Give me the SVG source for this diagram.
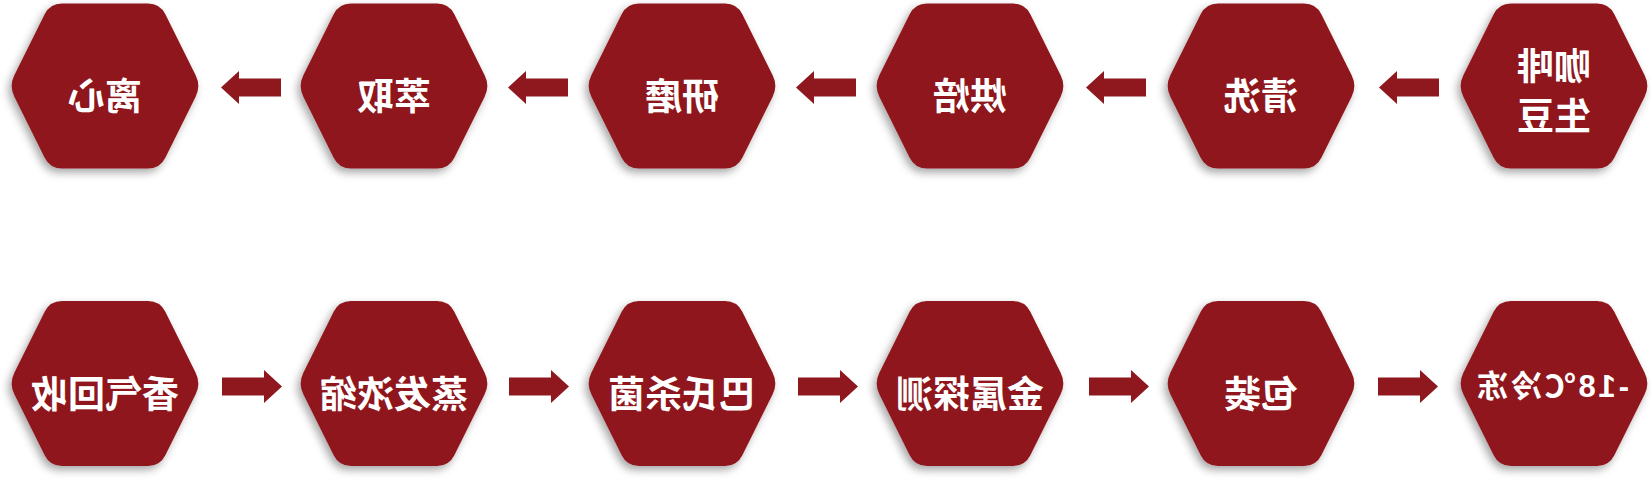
<svg xmlns="http://www.w3.org/2000/svg" xmlns:xlink="http://www.w3.org/1999/xlink" width="1651" height="492" viewBox="0 0 1651 492">
<style>
.t{font-family:"Noto Sans CJK SC","Noto Sans",sans-serif;font-weight:700;font-size:37px;fill:#ffffff;text-anchor:middle}
.s{font-size:31px}
.d{font-family:"Liberation Sans","Noto Sans CJK SC",sans-serif}
.hx{fill:#8E181E;filter:url(#sh)}
.ar{fill:#8E181E}
</style>
<defs>
<filter id="sh" x="-20%" y="-20%" width="140%" height="140%">
<feDropShadow dx="-3" dy="4" stdDeviation="4" flood-color="#000" flood-opacity="0.35"/>
</filter>
<path id="hex" d="M-90.66,-10.75 L-60.34,-71.75 Q-55,-82.5 -43,-82.5 L43,-82.5 Q55,-82.5 60.34,-71.75 L90.66,-10.75 Q96,0 90.66,10.75 L60.34,71.75 Q55,82.5 43,82.5 L-43,82.5 Q-55,82.5 -60.34,71.75 L-90.66,10.75 Q-96,0 -90.66,-10.75 Z"/>
<polygon id="arL" points="-30,0 -12,-16.5 -12,-9 30,-9 30,9 -12,9 -12,16.5"/>
<polygon id="arR" points="30,0 12,-16.5 12,-9 -30,-9 -30,9 12,9 12,16.5"/>
</defs>
<rect width="1651" height="492" fill="#ffffff"/>
<g id="connectors" class="ar">
<use xlink:href="#arL" href="#arL" transform="translate(251,87.5)"/>
<use xlink:href="#arL" href="#arL" transform="translate(538,87.5)"/>
<use xlink:href="#arL" href="#arL" transform="translate(826,87.5)"/>
<use xlink:href="#arL" href="#arL" transform="translate(1116,87.5)"/>
<use xlink:href="#arL" href="#arL" transform="translate(1409,87.5)"/>
<use xlink:href="#arR" href="#arR" transform="translate(252,386.5)"/>
<use xlink:href="#arR" href="#arR" transform="translate(539,386.5)"/>
<use xlink:href="#arR" href="#arR" transform="translate(828,386.5)"/>
<use xlink:href="#arR" href="#arR" transform="translate(1119,386.5)"/>
<use xlink:href="#arR" href="#arR" transform="translate(1408,386.5)"/>
</g>
<g id="node-lixin" transform="translate(105,86)">
<use class="hx" xlink:href="#hex" href="#hex"/>
<text class="t" transform="scale(-1,1)" x="0" y="23.5">离心</text>
</g>
<g id="node-cuiqu" transform="translate(394,86)">
<use class="hx" xlink:href="#hex" href="#hex"/>
<text class="t" transform="scale(-1,1)" x="0" y="23.5">萃取</text>
</g>
<g id="node-yanmo" transform="translate(682,86)">
<use class="hx" xlink:href="#hex" href="#hex"/>
<text class="t" transform="scale(-1,1)" x="0" y="23.5">研磨</text>
</g>
<g id="node-hongbei" transform="translate(970,86)">
<use class="hx" xlink:href="#hex" href="#hex"/>
<text class="t" transform="scale(-1,1)" x="0" y="23.5">烘焙</text>
</g>
<g id="node-qingxi" transform="translate(1261,86)">
<use class="hx" xlink:href="#hex" href="#hex"/>
<text class="t" transform="scale(-1,1)" x="0" y="23.5">清洗</text>
</g>
<g id="node-kafeishengdou" transform="translate(1554,86)">
<use class="hx" xlink:href="#hex" href="#hex"/>
<text class="t" transform="scale(-1,1)" x="0" y="-6.5">咖啡</text>
<text class="t" transform="scale(-1,1)" x="0" y="44">生豆</text>
</g>
<g id="node-xiangqi" transform="translate(105,383.5)">
<use class="hx" xlink:href="#hex" href="#hex"/>
<text class="t" transform="scale(-1,1)" x="0" y="24">香气回收</text>
</g>
<g id="node-zhengfa" transform="translate(394,383.5)">
<use class="hx" xlink:href="#hex" href="#hex"/>
<text class="t" transform="scale(-1,1)" x="0" y="24">蒸发浓缩</text>
</g>
<g id="node-bashi" transform="translate(682,383.5)">
<use class="hx" xlink:href="#hex" href="#hex"/>
<text class="t" transform="scale(-1,1)" x="0" y="24">巴氏杀菌</text>
</g>
<g id="node-jinshu" transform="translate(970,383.5)">
<use class="hx" xlink:href="#hex" href="#hex"/>
<text class="t" transform="scale(-1,1)" x="0" y="24">金属探测</text>
</g>
<g id="node-baozhuang" transform="translate(1261,383.5)">
<use class="hx" xlink:href="#hex" href="#hex"/>
<text class="t" transform="scale(-1,1)" x="0" y="24">包装</text>
</g>
<g id="node-lengdong" transform="translate(1554,383.5)">
<use class="hx" xlink:href="#hex" href="#hex"/>
<text class="t s" transform="scale(-1,1)" x="1" y="13.5" textLength="152" lengthAdjust="spacing"><tspan class="d">-18</tspan>℃冷冻</text>
</g>
</svg>
